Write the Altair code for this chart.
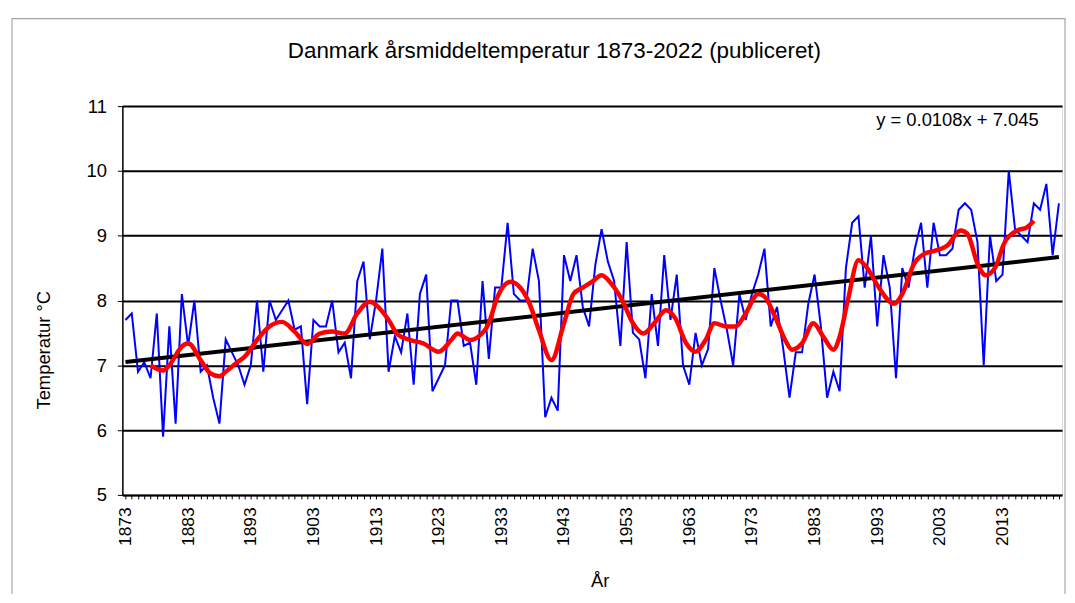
import altair as alt
import pandas as pd

FONT = "Liberation Sans"

# ---- data ----
years = list(range(1873, 2023))
temps = [
    7.7, 7.8, 6.9, 7.05, 6.8, 7.8, 5.9, 7.6, 6.1, 8.1,        # 1873-1882
    7.3, 8.0, 6.9, 7.0, 6.5, 6.1, 7.4, 7.2, 7.0, 6.7,         # 1883-1892
    7.0, 8.0, 6.9, 8.0, 7.7, 7.85, 8.0, 7.55, 7.6, 6.4,       # 1893-1902
    7.7, 7.6, 7.6, 8.0, 7.2, 7.35, 6.8, 8.3, 8.6, 7.4,        # 1903-1912
    8.0, 8.8, 6.9, 7.45, 7.2, 7.8, 6.7, 8.1, 8.4, 6.6,        # 1913-1922
    6.8, 7.0, 8.0, 8.0, 7.3, 7.35, 6.7, 8.3, 7.1, 8.2,        # 1923-1932
    8.2, 9.2, 8.1, 8.0, 8.0, 8.8, 8.3, 6.2, 6.5, 6.3,         # 1933-1942
    8.7, 8.3, 8.7, 7.9, 7.6, 8.55, 9.1, 8.6, 8.3, 7.3,        # 1943-1952
    8.9, 7.5, 7.4, 6.8, 8.1, 7.3, 8.7, 7.7, 8.4, 7.0,         # 1953-1962
    6.7, 7.5, 7.0, 7.25, 8.5, 8.0, 7.55, 7.0, 8.1, 7.7,       # 1963-1972
    8.1, 8.4, 8.8, 7.6, 7.9, 7.25, 6.5, 7.2, 7.2, 7.95,       # 1973-1982
    8.4, 7.6, 6.5, 6.9, 6.6, 8.5, 9.2, 9.3, 8.2, 9.0,         # 1983-1992
    7.6, 8.7, 8.2, 6.8, 8.5, 8.2, 8.8, 9.2, 8.2, 9.2,         # 1993-2002
    8.7, 8.7, 8.8, 9.4, 9.5, 9.4, 8.9, 7.0, 9.0, 8.3,         # 2003-2012
    8.4, 10.0, 9.1, 9.0, 8.9, 9.5, 9.4, 9.8, 8.7, 9.5,        # 2013-2022
]

red_years = [1877, 1879, 1880, 1882, 1883, 1885, 1886.5, 1888, 1889, 1891,
             1892, 1894, 1896, 1898, 1900, 1902, 1904, 1906, 1908, 1910,
             1912, 1913, 1915, 1916.5, 1918.5, 1920.5, 1923, 1925, 1926, 1928,
             1929, 1931, 1932.4, 1934.5, 1936, 1937.5, 1939, 1941, 1943, 1944.5,
             1946, 1947.5, 1949, 1950.7, 1952.3, 1954, 1955.7, 1957.4, 1959.3, 1960.8,
             1962.5, 1964, 1965.6, 1967, 1968.8, 1970.4, 1972, 1974, 1975, 1976.7,
             1978.3, 1979.4, 1981, 1982.8, 1984.4, 1986, 1987, 1988.3, 1990, 1991.4,
             1993, 1995.7, 1997, 1998.9, 2000.5, 2002.3, 2004.2, 2006.3, 2007.4, 2009,
             2010.3, 2011.9, 2013.2, 2015.3, 2016.9, 2018]
red_vals = [7.0, 6.92, 7.0, 7.29, 7.34, 7.08, 6.88, 6.83, 6.9, 7.06,
            7.13, 7.39, 7.6, 7.67, 7.52, 7.33, 7.49, 7.52, 7.49, 7.8,
            7.98, 7.93, 7.7, 7.47, 7.39, 7.34, 7.21, 7.39, 7.49, 7.39,
            7.42, 7.65, 8.06, 8.29, 8.2, 7.95, 7.54, 7.08, 7.65, 8.1,
            8.2, 8.29, 8.39, 8.24, 8.0, 7.65, 7.49, 7.65, 7.85, 7.72,
            7.34, 7.21, 7.39, 7.65, 7.6, 7.6, 7.8, 8.1, 8.06, 7.75,
            7.39, 7.24, 7.34, 7.65, 7.44, 7.24, 7.44, 8.0, 8.62, 8.5,
            8.24, 7.95, 8.1, 8.57, 8.72, 8.77, 8.85, 9.08, 9.03, 8.57,
            8.39, 8.52, 8.87, 9.08, 9.13, 9.23]

trend_years = [1873, 2022]
trend_vals = [7.05, 8.67]

eq_text = ["y = 0.0108x + 7.045"]
eq_year = [2005.8]
eq_val = [10.78]

x_label_years = [1873, 1883, 1893, 1903, 1913, 1923, 1933, 1943,
                 1953, 1963, 1973, 1983, 1993, 2003, 2013]
y_ticks = [5, 6, 7, 8, 9, 10, 11]

title_text = "Danmark årsmiddeltemperatur 1873-2022 (publiceret)"

# ---- tables ----
df_blue = pd.DataFrame({"year": years, "temp": temps})
df_red = pd.DataFrame({"year": red_years, "temp": red_vals})
df_trend = pd.DataFrame({"year": trend_years, "temp": trend_vals})
df_eq = pd.DataFrame({"year": eq_year, "temp": eq_val, "label": eq_text})
df_frame = pd.DataFrame({"k": [0]})

xscale = alt.Scale(domain=[1872.5, 2022.5], nice=False, zero=False)
yscale = alt.Scale(domain=[5, 11], nice=False, zero=False)

# axis with the year labels (no ticks)
xaxis_labels = alt.Axis(
    orient="bottom", values=x_label_years, format="d", labelAngle=270,
    labelFontSize=17.5, labelFont=FONT, labelColor="black", labelPadding=12,
    labelOverlap=False, labelBound=False, labelFlush=False,
    ticks=False, domain=False, grid=False,
    title="År", titleFont=FONT, titleFontSize=18.5, titleFontWeight="normal",
    titleColor="black", titleX=480, titleY=86, titleAlign="center",
    titleBaseline="middle", titleAngle=0,
)
# axis with a tick for every year (no labels)
xaxis_ticks = alt.Axis(
    orient="bottom", values=years, labels=False, title=None,
    tickSize=4, tickColor="black", tickWidth=1,
    domainColor="black", domainWidth=1.5, grid=False,
)
yaxis = alt.Axis(
    values=y_ticks, format="d", grid=True, gridColor="black", gridWidth=2,
    tickSize=5, tickColor="black", tickWidth=1,
    domainColor="black", domainWidth=1.5,
    labelFontSize=18.5, labelFont=FONT, labelColor="black", labelPadding=11,
    title="Temperatur °C", titleFont=FONT, titleFontSize=18.5,
    titleFontWeight="normal", titleColor="black", titleAngle=270,
    titleX=-79, titleY=245, titleAlign="center", titleBaseline="middle",
)

Y = alt.Y("temp:Q", scale=yscale, axis=yaxis)

frame = alt.Chart(df_frame).mark_rect(
    fill="white", fillOpacity=0, stroke="#A6A6A6", strokeWidth=1.2
).encode(
    x=alt.value(-111), x2=alt.value(948), y=alt.value(-88), y2=alt.value(560)
)

blue = alt.Chart(df_blue).mark_line(color="#0000FF", strokeWidth=2).encode(
    x=alt.X("year:Q", scale=xscale, axis=xaxis_labels), y=Y)
trend = alt.Chart(df_trend).mark_line(color="black", strokeWidth=4).encode(
    x=alt.X("year:Q", scale=xscale, axis=xaxis_ticks), y="temp:Q")
red = alt.Chart(df_red).mark_line(
    color="#FF0000", strokeWidth=4.5, interpolate="monotone"
).encode(x=alt.X("year:Q", axis=None), y="temp:Q")
eq = alt.Chart(df_eq).mark_text(
    font=FONT, fontSize=18.5, color="black", align="center", baseline="middle"
).encode(x=alt.X("year:Q", axis=None), y="temp:Q", text="label:N")

chart = alt.layer(frame, blue, trend, red, eq).resolve_axis(
    x="independent"
).properties(
    width=945, height=391,
    title=alt.TitleParams(
        text=title_text, font=FONT, fontSize=22.5, fontWeight="normal",
        color="black", anchor="middle", frame="group", dx=-38, offset=-45,
    ),
    padding={"left": 115, "top": 97, "right": 5, "bottom": 98},
    autosize=alt.AutoSizeParams(type="none"),
).configure_view(
    fill="#C0C0C0", stroke="#808080", strokeWidth=2
).configure(background="white")

chart.save("out.html", embed_options={"renderer": "svg", "actions": False})
